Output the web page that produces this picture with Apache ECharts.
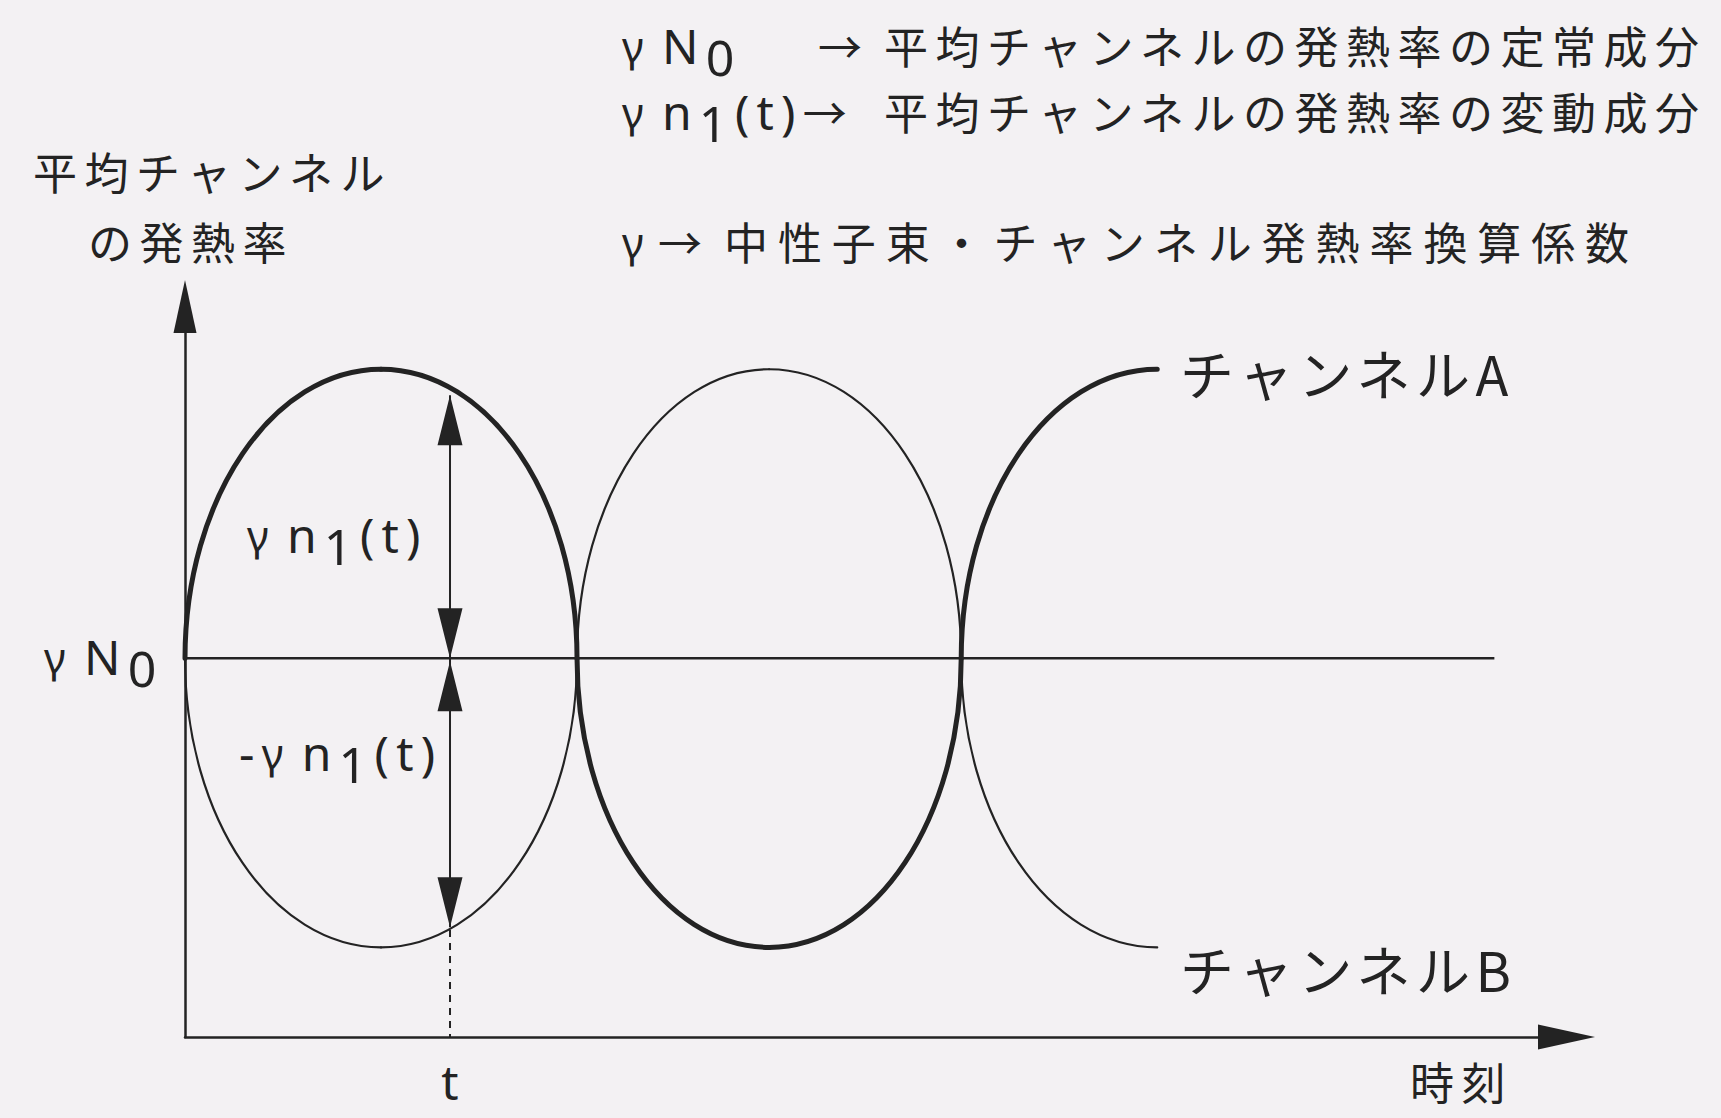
<!DOCTYPE html>
<html>
<head>
<meta charset="utf-8">
<script src="https://cdn.jsdelivr.net/npm/echarts@6/dist/echarts.min.js"></script>
<style>
  html, body { margin: 0; padding: 0; background: #f3f1f3; }
  #chart { width: 1721px; height: 1118px; }
</style>
</head>
<body>
<div id="chart"></div>
<script>
// Half-wave segments of each channel: [start t, end t, crest value, drawn fraction]
const channelA = [[0, 1, 1, 1], [1, 1.98, -1, 1], [1.98, 2.98, 1, 0.5]];
const channelB = [[0, 1, -1, 1], [1, 1.98, 1, 1], [1.98, 2.98, -1, 0.5]];
// steady component γN0 (level 0), drawn from t = 0 to its right end
const steadyLevel = [[0, 0], [3.34, 0]];
// marked instant t and the arrow ends: [t, upper tip, middle, lower tip]
const markArrows = [[0.676, 0.91, 0, -0.93]];
// dotted drop from channel B at t down to the time axis
const markDrop = [[0.676, -0.94], [0.676, -1.31]];
const xRange = [0, 3.524];
const yRange = [-1.31, 1.217];

const INK = '#232323';
const CJK = "'Noto Sans CJK JP'";
const LATIN = "'Noto Sans'";
const K = 0.5523; // cubic approximation of a quarter ellipse
const HAIR = '\u200A';

// Letter tracking (in em), keyed on a fallback family name in the font string.
const TRACKS = { 'track-a': 0.17, 'track-b': 0.225, 'track-c': 0.10, 'track-l': 0.15 };
(function () {
  const css = Object.keys(TRACKS).map(function (k) {
    return '#chart text[style*="' + k + '"]{letter-spacing:' + TRACKS[k] + 'em}';
  }).join('\n');
  const el = document.createElement('style');
  el.textContent = css;
  document.head.appendChild(el);
})();

// Text measurement that accounts for the tracking, so rich-text runs line up.
const measureCtx = document.createElement('canvas').getContext('2d');
if (typeof echarts.setPlatformAPI === 'function') {
  echarts.setPlatformAPI({
    measureText: function (text, font) {
      font = font || '12px sans-serif';
      measureCtx.font = font;
      let w = measureCtx.measureText(text).width;
      for (const k in TRACKS) {
        if (font.indexOf(k) >= 0) {
          const m = /([\d.]+)px/.exec(font);
          const size = m ? parseFloat(m[1]) : 12;
          w += TRACKS[k] * size * Array.from(text).length;
        }
      }
      return { width: w };
    }
  });
}

const chart = echarts.init(document.getElementById('chart'), null, { renderer: 'svg' });

function waveRenderer(width) {
  return function (params, api) {
    const t0 = api.value(0), t1 = api.value(1), crest = api.value(2), frac = api.value(3);
    const s = api.coord([t0, 0]);
    const c = api.coord([(t0 + t1) / 2, crest]);
    const e = api.coord([t1, 0]);
    const style = { stroke: INK, lineWidth: width, fill: null, lineCap: 'round' };
    const children = [{
      type: 'bezierCurve',
      shape: { x1: s[0], y1: s[1], cpx1: s[0], cpy1: s[1] + K * (c[1] - s[1]),
               cpx2: c[0] - K * (c[0] - s[0]), cpy2: c[1], x2: c[0], y2: c[1] },
      style: style
    }];
    if (frac > 0.5) {
      children.push({
        type: 'bezierCurve',
        shape: { x1: c[0], y1: c[1], cpx1: c[0] + K * (e[0] - c[0]), cpy1: c[1],
                 cpx2: e[0], cpy2: e[1] + K * (c[1] - e[1]), x2: e[0], y2: e[1] },
        style: style
      });
    }
    return { type: 'group', children: children };
  };
}

function arrowRenderer(params, api) {
  const t = api.value(0);
  const top = api.coord([t, api.value(1)]);
  const mid = api.coord([t, api.value(2)]);
  const bot = api.coord([t, api.value(3)]);
  const x = top[0], L = 50, W = 25;
  const head = function (tip, dir) {
    return { type: 'polygon',
      shape: { points: [[x, tip], [x - W / 2, tip + dir * L], [x + W / 2, tip + dir * L]] },
      style: { fill: INK } };
  };
  return { type: 'group', children: [
    { type: 'line', shape: { x1: x, y1: top[1], x2: x, y2: bot[1] }, style: { stroke: INK, lineWidth: 2 } },
    head(top[1], 1), head(mid[1], -1), head(mid[1] + 3, 1), head(bot[1], -1)
  ] };
}

function cjkText(x, y, text, size, track) {
  return { type: 'text', x: x, y: y, silent: true,
    style: { text: text, fill: INK, fontSize: size,
             fontFamily: CJK + (track ? ', ' + track : ''),
             verticalAlign: 'middle', align: 'left' } };
}
// symbols with lowered subscripts: a tall line box lets the 's' run sit low
const LATIN_RICH = {
  g: { fontSize: 42, fontFamily: LATIN + ', track-l', lineHeight: 82, fill: INK },
  m: { fontSize: 48, fontFamily: LATIN + ', track-l', lineHeight: 82, fill: INK },
  s: { fontSize: 50, fontFamily: LATIN + ', track-l', lineHeight: 34, verticalAlign: 'bottom', fill: INK },
  a: { fontSize: 44, fontFamily: CJK, lineHeight: 82, fill: INK }
};
function latinText(x, y, text) {
  return { type: 'text', x: x, y: y, silent: true,
    style: { text: text, fill: INK, verticalAlign: 'middle', align: 'left', rich: LATIN_RICH } };
}

chart.setOption({
  backgroundColor: '#f3f1f3',
  animation: false,
  grid: { left: 185, right: 154.5, top: 306.5, bottom: 81 },
  xAxis: {
    type: 'value', min: xRange[0], max: xRange[1],
    axisLine: { onZero: false, symbol: ['none', 'triangle'], symbolSize: [25, 57],
                lineStyle: { color: INK, width: 2.5 } },
    axisTick: { show: false }, axisLabel: { show: false }, splitLine: { show: false }
  },
  yAxis: {
    type: 'value', min: yRange[0], max: yRange[1],
    axisLine: { show: true, onZero: false, symbol: ['none', 'triangle'], symbolSize: [23, 53],
                lineStyle: { color: INK, width: 2.5 } },
    axisTick: { show: false }, axisLabel: { show: false }, splitLine: { show: false }
  },
  series: [
    { type: 'line', data: steadyLevel, symbol: 'none', silent: true,
      lineStyle: { color: INK, width: 2.5 } },
    { type: 'line', data: markDrop, symbol: 'none', silent: true,
      lineStyle: { color: INK, width: 2, type: [7, 6] } },
    { type: 'custom', data: channelB, renderItem: waveRenderer(2.2), silent: true, clip: false },
    { type: 'custom', data: channelA, renderItem: waveRenderer(5), silent: true, clip: false },
    { type: 'custom', data: markArrows, renderItem: arrowRenderer, silent: true, clip: false }
  ],
  graphic: [
    // key
    latinText(622, 45, '{g|γ}{m|' + HAIR + 'N}{s|0}'),
    cjkText(818, 45, '→', 44),
    cjkText(884, 45, '平均チャンネルの発熱率の定常成分', 44, 'track-a'),
    latinText(622, 111, '{g|γ}{m|' + HAIR + 'n}{s|1}{m|(t)}{a|→}'),
    cjkText(884, 111, '平均チャンネルの発熱率の変動成分', 44, 'track-a'),
    latinText(622, 241, '{g|γ}'),
    cjkText(658, 241, '→', 44),
    cjkText(724, 241, '中性子束・チャンネル発熱率換算係数', 44, 'track-b'),
    // axis titles
    cjkText(33, 171, '平均チャンネル', 44, 'track-a'),
    cjkText(88, 241, 'の発熱率', 44, 'track-a'),
    cjkText(1410, 1081, '時刻', 44, 'track-a'),
    latinText(44, 656, '{g|γ}{m|' + HAIR + 'N}{s|0}'),
    { type: 'text', x: 450, y: 1081, silent: true,
      style: { text: 't', fill: INK, fontSize: 48, fontFamily: LATIN,
               align: 'center', verticalAlign: 'middle' } },
    // dimension labels
    latinText(247, 534, '{g|γ}{m|' + HAIR + 'n}{s|1}{m|(t)}'),
    latinText(239, 752, '{m|-}{g|γ}{m|' + HAIR + 'n}{s|1}{m|(t)}'),
    // channel labels
    cjkText(1180, 372, 'チャンネルA', 54, 'track-c'),
    cjkText(1180, 968, 'チャンネルB', 54, 'track-c')
  ]
});
</script>
</body>
</html>
